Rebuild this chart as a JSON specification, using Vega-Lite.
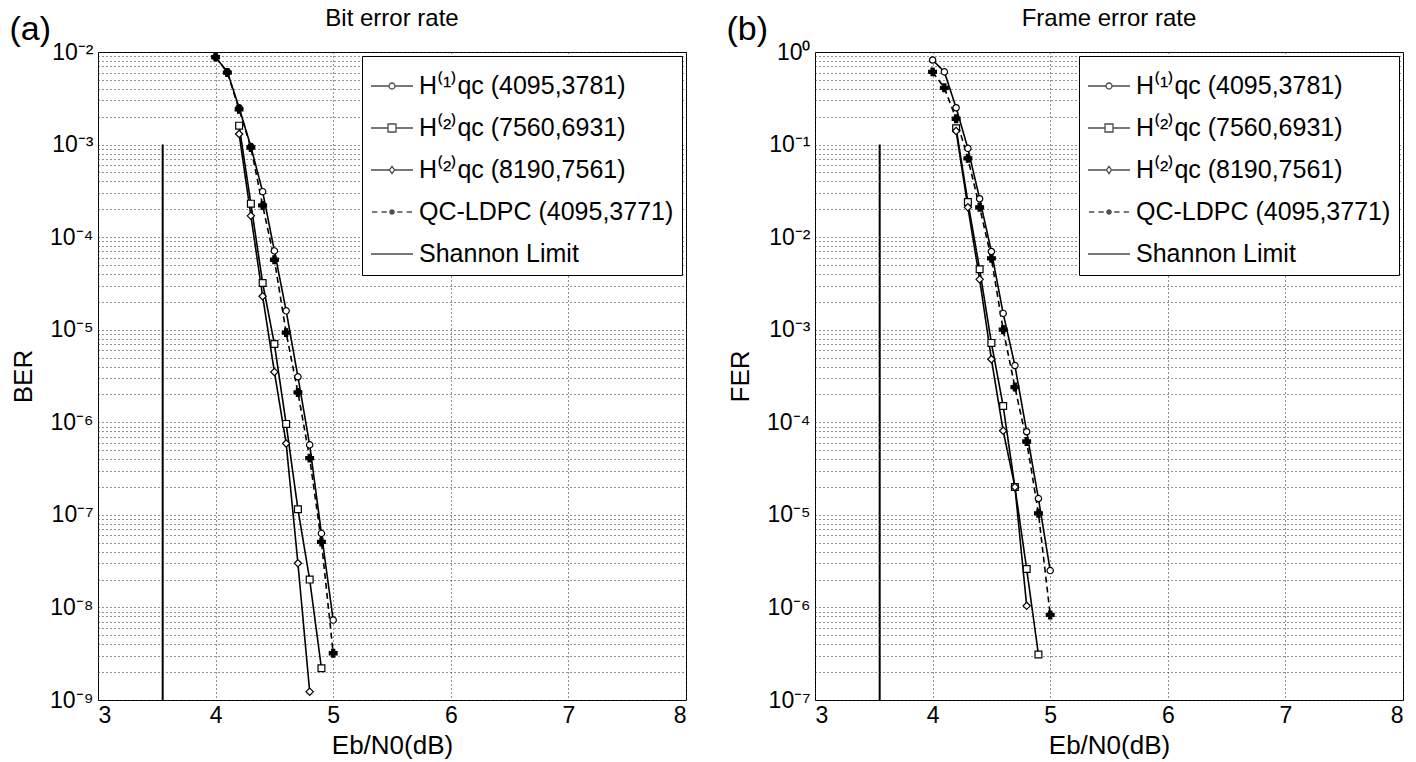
{
  "$schema": "https://vega.github.io/schema/vega-lite/v6.json",
  "background": "white",
  "padding": {"left": 9, "top": 6, "right": 0, "bottom": 0},
  "spacing": 39,
  "config": {
    "font": "Liberation Sans",
    "view": {"stroke": "black", "strokeWidth": 1},
    "axis": {"labelFont": "Liberation Sans", "titleFont": "Liberation Sans", "labelColor": "black", "titleColor": "black", "titleFontWeight": "normal", "domain": false, "ticks": false, "gridDash": [1, 3], "gridColor": "#222", "gridWidth": 1, "gridOpacity": 1},
    "title": {"font": "Liberation Sans", "fontWeight": "normal", "color": "black"},
    "style": {
      "group-title": {"fontSize": 24, "fontWeight": "normal"},
      "tagtitle": {"fontSize": 34}
    },
    "legend": {"labelFont": "Liberation Sans", "labelColor": "black"}
  },
  "datasets": {
    "curves": [
      {"panel": "BER", "series": "H1", "ebn0": 4.0, "value": 8.8e-3},
      {"panel": "BER", "series": "H1", "ebn0": 4.1, "value": 6.1e-3},
      {"panel": "BER", "series": "H1", "ebn0": 4.2, "value": 2.5e-3},
      {"panel": "BER", "series": "H1", "ebn0": 4.3, "value": 9.5e-4},
      {"panel": "BER", "series": "H1", "ebn0": 4.4, "value": 3.1e-4},
      {"panel": "BER", "series": "H1", "ebn0": 4.5, "value": 7.1e-5},
      {"panel": "BER", "series": "H1", "ebn0": 4.6, "value": 1.6e-5},
      {"panel": "BER", "series": "H1", "ebn0": 4.7, "value": 3.1e-6},
      {"panel": "BER", "series": "H1", "ebn0": 4.8, "value": 5.7e-7},
      {"panel": "BER", "series": "H1", "ebn0": 4.9, "value": 6.3e-8},
      {"panel": "BER", "series": "H1", "ebn0": 5.0, "value": 7.3e-9},
      {"panel": "BER", "series": "QC", "ebn0": 4.0, "value": 8.8e-3},
      {"panel": "BER", "series": "QC", "ebn0": 4.1, "value": 6.0e-3},
      {"panel": "BER", "series": "QC", "ebn0": 4.2, "value": 2.4e-3},
      {"panel": "BER", "series": "QC", "ebn0": 4.3, "value": 9.3e-4},
      {"panel": "BER", "series": "QC", "ebn0": 4.4, "value": 2.2e-4},
      {"panel": "BER", "series": "QC", "ebn0": 4.5, "value": 5.7e-5},
      {"panel": "BER", "series": "QC", "ebn0": 4.6, "value": 9.3e-6},
      {"panel": "BER", "series": "QC", "ebn0": 4.7, "value": 2.1e-6},
      {"panel": "BER", "series": "QC", "ebn0": 4.8, "value": 4.1e-7},
      {"panel": "BER", "series": "QC", "ebn0": 4.9, "value": 5.1e-8},
      {"panel": "BER", "series": "QC", "ebn0": 5.0, "value": 3.2e-9},
      {"panel": "BER", "series": "H2a", "ebn0": 4.2, "value": 1.6e-3},
      {"panel": "BER", "series": "H2a", "ebn0": 4.3, "value": 2.3e-4},
      {"panel": "BER", "series": "H2a", "ebn0": 4.4, "value": 3.2e-5},
      {"panel": "BER", "series": "H2a", "ebn0": 4.5, "value": 7.0e-6},
      {"panel": "BER", "series": "H2a", "ebn0": 4.6, "value": 9.6e-7},
      {"panel": "BER", "series": "H2a", "ebn0": 4.7, "value": 1.15e-7},
      {"panel": "BER", "series": "H2a", "ebn0": 4.8, "value": 2.0e-8},
      {"panel": "BER", "series": "H2a", "ebn0": 4.9, "value": 2.2e-9},
      {"panel": "BER", "series": "H2b", "ebn0": 4.2, "value": 1.3e-3},
      {"panel": "BER", "series": "H2b", "ebn0": 4.3, "value": 1.7e-4},
      {"panel": "BER", "series": "H2b", "ebn0": 4.4, "value": 2.3e-5},
      {"panel": "BER", "series": "H2b", "ebn0": 4.5, "value": 3.5e-6},
      {"panel": "BER", "series": "H2b", "ebn0": 4.6, "value": 5.9e-7},
      {"panel": "BER", "series": "H2b", "ebn0": 4.7, "value": 3.0e-8},
      {"panel": "BER", "series": "H2b", "ebn0": 4.8, "value": 1.23e-9},
      {"panel": "FER", "series": "H1", "ebn0": 4.0, "value": 0.82},
      {"panel": "FER", "series": "H1", "ebn0": 4.1, "value": 0.61},
      {"panel": "FER", "series": "H1", "ebn0": 4.2, "value": 0.25},
      {"panel": "FER", "series": "H1", "ebn0": 4.3, "value": 0.091},
      {"panel": "FER", "series": "H1", "ebn0": 4.4, "value": 0.026},
      {"panel": "FER", "series": "H1", "ebn0": 4.5, "value": 0.0070},
      {"panel": "FER", "series": "H1", "ebn0": 4.6, "value": 1.5e-3},
      {"panel": "FER", "series": "H1", "ebn0": 4.7, "value": 4.1e-4},
      {"panel": "FER", "series": "H1", "ebn0": 4.8, "value": 7.9e-5},
      {"panel": "FER", "series": "H1", "ebn0": 4.9, "value": 1.5e-5},
      {"panel": "FER", "series": "H1", "ebn0": 5.0, "value": 2.5e-6},
      {"panel": "FER", "series": "QC", "ebn0": 4.0, "value": 0.61},
      {"panel": "FER", "series": "QC", "ebn0": 4.1, "value": 0.41},
      {"panel": "FER", "series": "QC", "ebn0": 4.2, "value": 0.19},
      {"panel": "FER", "series": "QC", "ebn0": 4.3, "value": 0.071},
      {"panel": "FER", "series": "QC", "ebn0": 4.4, "value": 0.021},
      {"panel": "FER", "series": "QC", "ebn0": 4.5, "value": 0.0059},
      {"panel": "FER", "series": "QC", "ebn0": 4.6, "value": 1.0e-3},
      {"panel": "FER", "series": "QC", "ebn0": 4.7, "value": 2.4e-4},
      {"panel": "FER", "series": "QC", "ebn0": 4.8, "value": 6.2e-5},
      {"panel": "FER", "series": "QC", "ebn0": 4.9, "value": 1.04e-5},
      {"panel": "FER", "series": "QC", "ebn0": 5.0, "value": 8.3e-7},
      {"panel": "FER", "series": "H2a", "ebn0": 4.2, "value": 0.15},
      {"panel": "FER", "series": "H2a", "ebn0": 4.3, "value": 0.024},
      {"panel": "FER", "series": "H2a", "ebn0": 4.4, "value": 0.0045},
      {"panel": "FER", "series": "H2a", "ebn0": 4.5, "value": 7.2e-4},
      {"panel": "FER", "series": "H2a", "ebn0": 4.6, "value": 1.5e-4},
      {"panel": "FER", "series": "H2a", "ebn0": 4.7, "value": 2.0e-5},
      {"panel": "FER", "series": "H2a", "ebn0": 4.8, "value": 2.6e-6},
      {"panel": "FER", "series": "H2a", "ebn0": 4.9, "value": 3.1e-7},
      {"panel": "FER", "series": "H2b", "ebn0": 4.2, "value": 0.14},
      {"panel": "FER", "series": "H2b", "ebn0": 4.3, "value": 0.021},
      {"panel": "FER", "series": "H2b", "ebn0": 4.4, "value": 0.0035},
      {"panel": "FER", "series": "H2b", "ebn0": 4.5, "value": 4.8e-4},
      {"panel": "FER", "series": "H2b", "ebn0": 4.6, "value": 8.1e-5},
      {"panel": "FER", "series": "H2b", "ebn0": 4.7, "value": 2.0e-5},
      {"panel": "FER", "series": "H2b", "ebn0": 4.8, "value": 1.04e-6}
    ],
    "shannon": [
      {"panel": "BER", "ebn0": 3.55, "lo": 1e-9, "hi": 1e-3},
      {"panel": "FER", "ebn0": 3.55, "lo": 1e-7, "hi": 1e-1}
    ]
  },
  "hconcat": [
    {
      "title": {"text": "(a)", "anchor": "start", "frame": "bounds", "style": ["group-title", "tagtitle"], "fontSize": 34, "offset": -40},
      "vconcat": [
        {
          "width": 588,
          "height": 648,
          "title": {"text": "Bit error rate", "fontSize": 24, "offset": 10},
          "layer": [
            {
              "data": {"name": "shannon"},
              "transform": [{"filter": "datum.panel === 'BER'"}],
              "mark": {"type": "rule", "color": "black", "strokeWidth": 2},
              "encoding": {
                "x": {"field": "ebn0", "type": "quantitative"},
                "y": {"field": "lo", "type": "quantitative"},
                "y2": {"field": "hi"}
              }
            },
            {
              "data": {"name": "curves"},
              "transform": [{"filter": "datum.panel === 'BER'"}],
              "mark": {"type": "line", "color": "black", "strokeWidth": 1.6},
              "encoding": {
                "x": {"field": "ebn0", "type": "quantitative", "scale": {"domain": [3, 8], "nice": false, "zero": false},
                  "axis": {"values": [3, 4, 5, 6, 7, 8], "format": "d", "title": "Eb/N0(dB)", "labelFontSize": 23, "titleFontSize": 26, "labelPadding": 4, "titlePadding": 5, "grid": true}},
                "y": {"field": "value", "type": "quantitative", "scale": {"type": "log", "domain": [1e-9, 1e-2], "nice": false},
                  "axis": {"values": [1e-9,2e-9,3e-9,4e-9,5e-9,6e-9,7e-9,8e-9,9e-9,1e-8,2e-8,3e-8,4e-8,5e-8,6e-8,7e-8,8e-8,9e-8,1e-7,2e-7,3e-7,4e-7,5e-7,6e-7,7e-7,8e-7,9e-7,1e-6,2e-6,3e-6,4e-6,5e-6,6e-6,7e-6,8e-6,9e-6,1e-5,2e-5,3e-5,4e-5,5e-5,6e-5,7e-5,8e-5,9e-5,1e-4,2e-4,3e-4,4e-4,5e-4,6e-4,7e-4,8e-4,9e-4,1e-3,2e-3,3e-3,4e-3,5e-3,6e-3,7e-3,8e-3,9e-3,1e-2],
                    "labelExpr": "abs(log(datum.value)/LN10 - round(log(datum.value)/LN10)) < 0.001 ? '10' + ['⁰','⁻¹','⁻²','⁻³','⁻⁴','⁻⁵','⁻⁶','⁻⁷','⁻⁸','⁻⁹'][-round(log(datum.value)/LN10)] : ''",
                    "title": "BER", "labelFontSize": 23, "titleFontSize": 26, "labelPadding": 5, "titlePadding": 7, "minExtent": 55, "maxExtent": 55, "grid": true, "labelOverlap": false}},
                "strokeDash": {"field": "series", "type": "nominal", "scale": {"domain": ["H1", "H2a", "H2b", "QC"], "range": [[1, 0], [1, 0], [1, 0], [6, 4]]}, "legend": null}
              }
            },
            {
              "data": {"name": "curves"},
              "transform": [{"filter": "datum.panel === 'BER'"}],
              "mark": {"type": "point", "stroke": "black", "strokeWidth": 1.2, "opacity": 1},
              "encoding": {
                "x": {"field": "ebn0", "type": "quantitative"},
                "y": {"field": "value", "type": "quantitative"},
                "shape": {"field": "series", "type": "nominal", "scale": {"domain": ["H1", "H2a", "H2b", "QC"], "range": ["circle", "square", "diamond", "cross"]}, "legend": null},
                "fill": {"field": "series", "type": "nominal", "scale": {"domain": ["H1", "H2a", "H2b", "QC"], "range": ["white", "white", "white", "black"]}, "legend": null},
                "size": {"field": "series", "type": "nominal", "scale": {"domain": ["H1", "H2a", "H2b", "QC"], "range": [40, 60, 45, 30]}, "legend": null}
              }
            },
            {
              "data": {"name": "curves"},
              "transform": [{"filter": "false"}],
              "mark": {"type": "point", "color": "black", "filled": false},
              "encoding": {
                "shape": {"field": "series", "type": "nominal",
                  "scale": {"domain": ["H1", "H2a", "H2b", "QC", "Shannon"],
                    "range": [
                      "M-1,0H-0.143M0.143,0H1M-0.143,0A0.143,0.143 0 1,0 0.143,0A0.143,0.143 0 1,0 -0.143,0",
                      "M-1,0H-0.19M0.19,0H1M-0.19,-0.19H0.19V0.19H-0.19Z",
                      "M-1,0H-0.12M0.12,0H1M0,-0.17L0.12,0L0,0.17L-0.12,0Z",
                      "M-0.95,0H-0.7M-0.5,0H-0.25M0.25,0H0.5M0.7,0H0.95M-0.14,0H0.14M0,-0.14V0.14M-0.1,-0.1L0.1,0.1M-0.1,0.1L0.1,-0.1",
                      "M-1,0H1"
                    ]},
                  "legend": {"title": null, "orient": "top-right", "offset": 4, "symbolSize": 1764, "symbolStrokeWidth": 1.3, "symbolStrokeColor": "black", "labelFontSize": 25, "labelLimit": 400, "labelOffset": 5, "padding": 8, "rowPadding": 7, "strokeColor": "black", "fillColor": "white", "cornerRadius": 0,
                    "labelExpr": "datum.value === 'H1' ? 'H⁽¹⁾qc (4095,3781)' : datum.value === 'H2a' ? 'H⁽²⁾qc (7560,6931)' : datum.value === 'H2b' ? 'H⁽²⁾qc (8190,7561)' : datum.value === 'QC' ? 'QC-LDPC (4095,3771)' : 'Shannon Limit'"}}
              }
            }
          ],
          "resolve": {"scale": {"shape": "independent"}}
        }
      ]
    },
    {
      "title": {"text": "(b)", "anchor": "start", "frame": "bounds", "style": ["group-title", "tagtitle"], "fontSize": 34, "offset": -40},
      "vconcat": [
        {
          "width": 588,
          "height": 648,
          "title": {"text": "Frame error rate", "fontSize": 24, "offset": 10},
          "layer": [
            {
              "data": {"name": "shannon"},
              "transform": [{"filter": "datum.panel === 'FER'"}],
              "mark": {"type": "rule", "color": "black", "strokeWidth": 2},
              "encoding": {
                "x": {"field": "ebn0", "type": "quantitative"},
                "y": {"field": "lo", "type": "quantitative"},
                "y2": {"field": "hi"}
              }
            },
            {
              "data": {"name": "curves"},
              "transform": [{"filter": "datum.panel === 'FER'"}],
              "mark": {"type": "line", "color": "black", "strokeWidth": 1.6},
              "encoding": {
                "x": {"field": "ebn0", "type": "quantitative", "scale": {"domain": [3, 8], "nice": false, "zero": false},
                  "axis": {"values": [3, 4, 5, 6, 7, 8], "format": "d", "title": "Eb/N0(dB)", "labelFontSize": 23, "titleFontSize": 26, "labelPadding": 4, "titlePadding": 5, "grid": true}},
                "y": {"field": "value", "type": "quantitative", "scale": {"type": "log", "domain": [1e-7, 1], "nice": false},
                  "axis": {"values": [1e-7,2e-7,3e-7,4e-7,5e-7,6e-7,7e-7,8e-7,9e-7,1e-6,2e-6,3e-6,4e-6,5e-6,6e-6,7e-6,8e-6,9e-6,1e-5,2e-5,3e-5,4e-5,5e-5,6e-5,7e-5,8e-5,9e-5,1e-4,2e-4,3e-4,4e-4,5e-4,6e-4,7e-4,8e-4,9e-4,1e-3,2e-3,3e-3,4e-3,5e-3,6e-3,7e-3,8e-3,9e-3,1e-2,2e-2,3e-2,4e-2,5e-2,6e-2,7e-2,8e-2,9e-2,0.1,0.2,0.3,0.4,0.5,0.6,0.7,0.8,0.9,1],
                    "labelExpr": "abs(log(datum.value)/LN10 - round(log(datum.value)/LN10)) < 0.001 ? '10' + ['⁰','⁻¹','⁻²','⁻³','⁻⁴','⁻⁵','⁻⁶','⁻⁷','⁻⁸','⁻⁹'][-round(log(datum.value)/LN10)] : ''",
                    "title": "FER", "labelFontSize": 23, "titleFontSize": 26, "labelPadding": 5, "titlePadding": 7, "minExtent": 55, "maxExtent": 55, "grid": true, "labelOverlap": false}},
                "strokeDash": {"field": "series", "type": "nominal", "scale": {"domain": ["H1", "H2a", "H2b", "QC"], "range": [[1, 0], [1, 0], [1, 0], [6, 4]]}, "legend": null}
              }
            },
            {
              "data": {"name": "curves"},
              "transform": [{"filter": "datum.panel === 'FER'"}],
              "mark": {"type": "point", "stroke": "black", "strokeWidth": 1.2, "opacity": 1},
              "encoding": {
                "x": {"field": "ebn0", "type": "quantitative"},
                "y": {"field": "value", "type": "quantitative"},
                "shape": {"field": "series", "type": "nominal", "scale": {"domain": ["H1", "H2a", "H2b", "QC"], "range": ["circle", "square", "diamond", "cross"]}, "legend": null},
                "fill": {"field": "series", "type": "nominal", "scale": {"domain": ["H1", "H2a", "H2b", "QC"], "range": ["white", "white", "white", "black"]}, "legend": null},
                "size": {"field": "series", "type": "nominal", "scale": {"domain": ["H1", "H2a", "H2b", "QC"], "range": [40, 60, 45, 30]}, "legend": null}
              }
            },
            {
              "data": {"name": "curves"},
              "transform": [{"filter": "false"}],
              "mark": {"type": "point", "color": "black", "filled": false},
              "encoding": {
                "shape": {"field": "series", "type": "nominal",
                  "scale": {"domain": ["H1", "H2a", "H2b", "QC", "Shannon"],
                    "range": [
                      "M-1,0H-0.143M0.143,0H1M-0.143,0A0.143,0.143 0 1,0 0.143,0A0.143,0.143 0 1,0 -0.143,0",
                      "M-1,0H-0.19M0.19,0H1M-0.19,-0.19H0.19V0.19H-0.19Z",
                      "M-1,0H-0.12M0.12,0H1M0,-0.17L0.12,0L0,0.17L-0.12,0Z",
                      "M-0.95,0H-0.7M-0.5,0H-0.25M0.25,0H0.5M0.7,0H0.95M-0.14,0H0.14M0,-0.14V0.14M-0.1,-0.1L0.1,0.1M-0.1,0.1L0.1,-0.1",
                      "M-1,0H1"
                    ]},
                  "legend": {"title": null, "orient": "top-right", "offset": 4, "symbolSize": 1764, "symbolStrokeWidth": 1.3, "symbolStrokeColor": "black", "labelFontSize": 25, "labelLimit": 400, "labelOffset": 5, "padding": 8, "rowPadding": 7, "strokeColor": "black", "fillColor": "white", "cornerRadius": 0,
                    "labelExpr": "datum.value === 'H1' ? 'H⁽¹⁾qc (4095,3781)' : datum.value === 'H2a' ? 'H⁽²⁾qc (7560,6931)' : datum.value === 'H2b' ? 'H⁽²⁾qc (8190,7561)' : datum.value === 'QC' ? 'QC-LDPC (4095,3771)' : 'Shannon Limit'"}}
              }
            }
          ],
          "resolve": {"scale": {"shape": "independent"}}
        }
      ]
    }
  ]
}
